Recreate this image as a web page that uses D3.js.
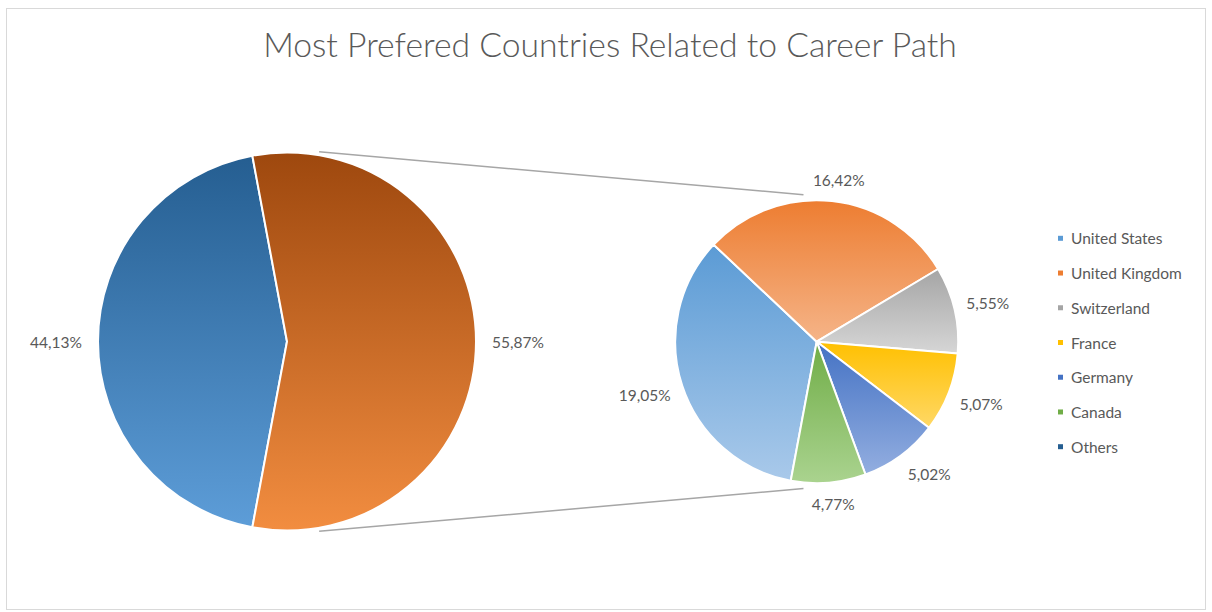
<!DOCTYPE html>
<html>
<head>
<meta charset="utf-8">
<script src="https://cdn.jsdelivr.net/npm/d3@7"></script>
<style>
  html, body { margin: 0; padding: 0; background: #ffffff; }
  svg { display: block; }
  text { font-family: Lato, "Open Sans", "Liberation Sans", sans-serif; }
</style>
</head>
<body>
<svg id="chart" width="1212" height="612"></svg>
<script>
// ---- data ----
const chartTitle = "Most Prefered Countries Related to Career Path";
const countries = ["United States", "United Kingdom", "Switzerland", "France", "Germany", "Canada"];
const countryShares = [19.05, 16.42, 5.55, 5.07, 5.02, 4.77];
const othersName = "Others";
const othersShare = 44.13;
const groupedShare = 55.87;
const legendNames = countries.concat([othersName]);

// ---- styling ----
const countryColors = ["#5b9bd5", "#ed7d31", "#a5a5a5", "#ffc000", "#4472c4", "#70ad47"];
const countryLight  = ["#a9c9ea", "#f5b488", "#d6d6d6", "#ffd866", "#93aee0", "#aad38f"];
const othersColor = "#255e91", othersLight = "#5d9dd8";
const groupedColor = "#9e480e", groupedLight = "#f28d40";
const textColor = "#595959";

const svg = d3.select("#chart");
const defs = svg.append("defs");

// chart frame
svg.append("rect")
  .attr("x", 6.5).attr("y", 8.5).attr("width", 1199).attr("height", 601)
  .attr("fill", "#ffffff").attr("stroke", "#d9d9d9").attr("stroke-width", 1);

// title, sized to span the heading area
const title = svg.append("text")
  .attr("x", 610).attr("y", 57)
  .attr("text-anchor", "middle")
  .attr("fill", textColor)
  .attr("font-weight", 300)
  .attr("font-size", 32)
  .text(chartTitle);
const tw = title.node().getComputedTextLength();
title.attr("font-size", 32 * 694 / tw);

// ---- geometry ----
const main = { cx: 287, cy: 341.5, r: 189 };
const side = { cx: 816.7, cy: 341.7, r: 141.5 };

// the grouped slice of the main pie is centred on the right; both pies share this first-slice angle
const groupedAngle = groupedShare / (groupedShare + othersShare) * 2 * Math.PI;
const othersAngle = 2 * Math.PI - groupedAngle;
const firstAngle = Math.PI / 2 - groupedAngle / 2 - othersAngle;

function vGradient(id, top, bottom) {
  const g = defs.append("linearGradient").attr("id", id)
    .attr("x1", 0).attr("y1", 0).attr("x2", 0).attr("y2", 1);
  g.append("stop").attr("offset", "0%").attr("stop-color", top);
  g.append("stop").attr("offset", "100%").attr("stop-color", bottom);
  return "url(#" + id + ")";
}

const fmt = v => d3.format(".2f")(v).replace(".", ",") + "%";

// ---- connector lines (outer tangents of the two pies, starting where they meet the big pie) ----
(function () {
  const pad = 6;
  const R1 = main.r + pad, R2 = side.r + pad;
  const d = side.cx - main.cx;
  const a = Math.asin((R1 - R2) / d);
  [-1, 1].forEach(sgn => {
    const tx1 = main.cx - R1 * Math.sin(a), ty1 = main.cy + sgn * R1 * Math.cos(a);
    const x2 = side.cx - R2 * Math.sin(a), y2 = side.cy + sgn * R2 * Math.cos(a);
    const x1 = main.cx + 0.17 * main.r;
    const y1 = ty1 + (y2 - ty1) * (x1 - tx1) / (x2 - tx1);
    svg.append("line")
      .attr("x1", x1).attr("y1", y1).attr("x2", x2).attr("y2", y2)
      .attr("stroke", "#a6a6a6").attr("stroke-width", 1.5);
  });
})();

// ---- label placement outside a slice ----
const clamp = v => Math.max(-1, Math.min(1, v));
function placeLabel(g, center, R, angle, str) {
  const t = g.append("text")
    .attr("text-anchor", "middle")
    .attr("dominant-baseline", "central")
    .attr("font-size", 15.5)
    .attr("fill", textColor)
    .text(str);
  const bb = t.node().getBBox();
  const s = Math.sin(angle), c = Math.cos(angle);
  const px = center.cx + R * s, py = center.cy - R * c;
  t.attr("x", px + bb.width / 2 * clamp(s * 2))
   .attr("y", py - bb.height / 2 * clamp(c * 2));
}

// ---- main pie ----
const mainData = [
  { name: othersName, value: othersShare, top: othersColor, bottom: othersLight },
  { name: "grouped", value: groupedShare, top: groupedColor, bottom: groupedLight }
];
const mainPie = d3.pie().sort(null).value(d => d.value)
  .startAngle(firstAngle).endAngle(firstAngle + 2 * Math.PI);
const mainArc = d3.arc().innerRadius(0).outerRadius(main.r);
const gMain = svg.append("g").attr("transform", `translate(${main.cx},${main.cy})`);
gMain.selectAll("path").data(mainPie(mainData)).join("path")
  .attr("d", mainArc)
  .attr("fill", (d, i) => vGradient("m" + i, d.data.top, d.data.bottom))
  .attr("stroke", "#ffffff").attr("stroke-width", 2).attr("stroke-linejoin", "round");
const gMainLabels = svg.append("g");
mainPie(mainData).forEach(d => {
  placeLabel(gMainLabels, main, main.r + 16, (d.startAngle + d.endAngle) / 2, fmt(d.data.value));
});

// ---- secondary pie ----
const sideData = countries.map((n, i) => ({
  name: n, value: countryShares[i], top: countryColors[i], bottom: countryLight[i]
}));
const sidePie = d3.pie().sort(null).value(d => d.value)
  .startAngle(firstAngle).endAngle(firstAngle + 2 * Math.PI);
const sideArc = d3.arc().innerRadius(0).outerRadius(side.r);
const gSide = svg.append("g").attr("transform", `translate(${side.cx},${side.cy})`);
gSide.selectAll("path").data(sidePie(sideData)).join("path")
  .attr("d", sideArc)
  .attr("fill", (d, i) => vGradient("s" + i, d.data.top, d.data.bottom))
  .attr("stroke", "#ffffff").attr("stroke-width", 2).attr("stroke-linejoin", "round");
const gSideLabels = svg.append("g");
sidePie(sideData).forEach(d => {
  placeLabel(gSideLabels, side, side.r + 12, (d.startAngle + d.endAngle) / 2, fmt(d.data.value));
});

// ---- legend ----
const legendColors = countryColors.concat([othersColor]);
const ly = d3.scalePoint().domain(legendNames).range([238.3, 446.7]);
const gLeg = svg.append("g");
legendNames.forEach((n, i) => {
  gLeg.append("rect")
    .attr("x", 1058).attr("y", ly(n) - 2.5).attr("width", 5).attr("height", 5)
    .attr("fill", legendColors[i]);
  gLeg.append("text")
    .attr("x", 1071).attr("y", ly(n))
    .attr("dominant-baseline", "central")
    .attr("font-size", 15.5)
    .attr("fill", textColor)
    .text(n);
});
</script>
</body>
</html>
